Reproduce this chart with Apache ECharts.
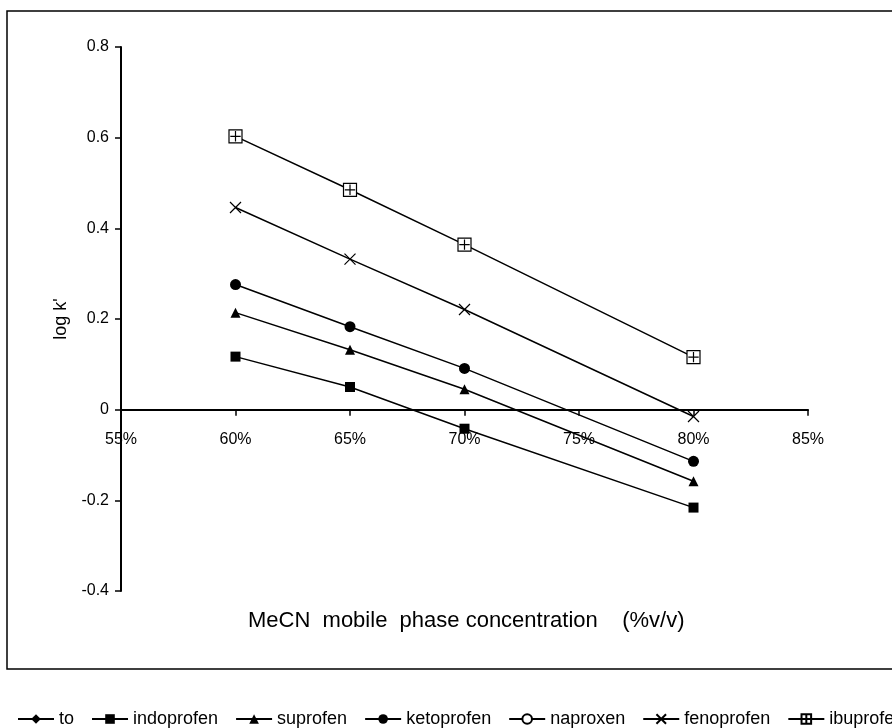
<!DOCTYPE html>
<html>
<head>
<meta charset="utf-8">
<script src="https://cdn.jsdelivr.net/npm/echarts@6/dist/echarts.min.js"></script>
<style>
html,body{margin:0;padding:0;background:#fff;}
#chart{width:892px;height:728px;}
</style>
</head>
<body>
<div id="chart"></div>
<script>
// ---- data ----
var xValues = [60, 65, 70, 80];
var seriesNames = ['to', 'indoprofen', 'suprofen', 'ketoprofen', 'naproxen', 'fenoprofen', 'ibuprofen'];
var toVals = [];
var indoprofen = [0.117, 0.050, -0.042, -0.216];
var suprofen = [0.214, 0.132, 0.045, -0.158];
var ketoprofen = [0.276, 0.183, 0.091, -0.114];
var naproxen = [];
var fenoprofen = [0.446, 0.332, 0.221, -0.015];
var ibuprofen = [0.603, 0.485, 0.364, 0.116];
var xTicks = [55, 60, 65, 70, 75, 80, 85];
var yTicks = [-0.4, -0.2, 0, 0.2, 0.4, 0.6, 0.8];

function pairs(vals) {
  return vals.map(function (v, i) { return [xValues[i], v]; });
}

var FONT = 'Liberation Sans, Arial, sans-serif';
var boxPlus = 'path://M0,0L10,0L10,10L0,10Z M5,1L5,9 M1,5L9,5';
var xMark = 'path://M0,0L10,10 M10,0L0,10';

function mk(name, vals, symbol, size, fill, bw) {
  return {
    name: name,
    type: 'line',
    data: pairs(vals),
    symbol: symbol,
    symbolSize: size,
    showSymbol: true,
    lineStyle: { color: '#000', width: 1.5 },
    itemStyle: { color: fill, borderColor: '#000', borderWidth: bw },
    emphasis: { disabled: true },
    z: 3
  };
}

var chart = echarts.init(document.getElementById('chart'), null, { renderer: 'canvas' });
chart.setOption({
  animation: false,
  backgroundColor: '#fff',
  textStyle: { fontFamily: FONT, color: '#000' },
  title: {
    text: 'MeCN  mobile  phase concentration    (%v/v)',
    left: 248,
    top: 610,
    padding: 0,
    textStyle: { fontFamily: FONT, fontSize: 22, fontWeight: 'normal', color: '#000' }
  },
  graphic: [{
    type: 'rect',
    shape: { x: 7, y: 11, width: 900, height: 658 },
    style: { fill: 'none', stroke: '#000', lineWidth: 1.5 },
    silent: true,
    z: -1
  }],
  legend: {
    left: 17,
    top: 710,
    padding: 0,
    width: 1400,
    itemWidth: 36,
    itemHeight: 12,
    itemGap: 17,
    data: seriesNames,
    textStyle: { fontFamily: FONT, fontSize: 18, color: '#000' }
  },
  grid: { left: 121, right: 84, top: 47, bottom: 137, containLabel: false },
  xAxis: {
    type: 'value',
    min: xTicks[0],
    max: xTicks[xTicks.length - 1],
    interval: 5,
    axisLine: { onZero: true, lineStyle: { color: '#000', width: 2 } },
    axisTick: { show: true, inside: false, length: 6, lineStyle: { color: '#000', width: 1.5 } },
    axisLabel: { formatter: '{value}%', fontSize: 16, color: '#000', fontFamily: FONT, margin: -159 },
    splitLine: { show: false }
  },
  yAxis: {
    type: 'value',
    min: yTicks[0],
    max: yTicks[yTicks.length - 1],
    interval: 0.2,
    name: "log k'",
    nameLocation: 'middle',
    nameRotate: 90,
    nameGap: 48,
    nameTextStyle: { fontFamily: FONT, fontSize: 18, color: '#000' },
    axisLine: { show: true, onZero: false, lineStyle: { color: '#000', width: 2 } },
    axisTick: { show: true, inside: false, length: 6, lineStyle: { color: '#000', width: 1.5 } },
    axisLabel: {
      fontSize: 16, color: '#000', fontFamily: FONT, margin: 12,
      formatter: function (v) { return String(Math.round(v * 10) / 10); }
    },
    splitLine: { show: false }
  },
  series: [
    mk('to', toVals, 'diamond', 12, '#000', 0),
    mk('indoprofen', indoprofen, 'rect', 10, '#000', 0),
    mk('suprofen', suprofen, 'triangle', 10, '#000', 0),
    mk('ketoprofen', ketoprofen, 'circle', 11, '#000', 0),
    mk('naproxen', naproxen, 'emptyCircle', 9, '#000', 1.2),
    mk('fenoprofen', fenoprofen, xMark, 11, 'transparent', 1.2),
    mk('ibuprofen', ibuprofen, boxPlus, 13, '#fff', 1.2)
  ]
});
</script>
</body>
</html>
